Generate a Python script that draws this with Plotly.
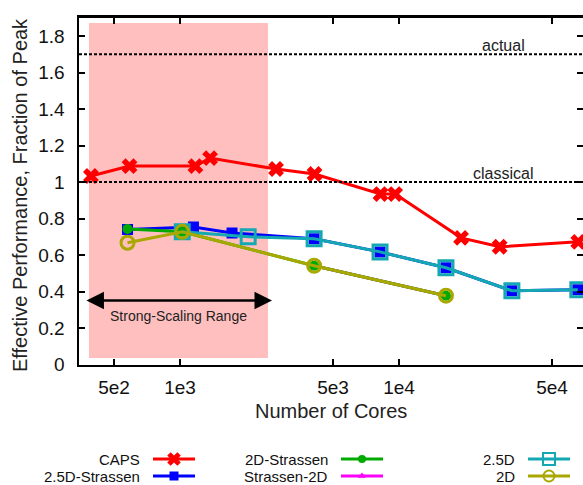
import math
import plotly.graph_objects as go

# ---------------- data ----------------
caps_cores = [392, 588, 1176, 1372, 2744, 4116, 8232, 9604, 19208, 28812, 65856]
caps_perf = [1.033, 1.087, 1.087, 1.131, 1.071, 1.044, 0.934, 0.934, 0.694, 0.645, 0.672]

s25d_cores = [576, 1152, 1728, 4096, 8192, 16384, 32768, 65536]
s25d_perf = [0.740, 0.754, 0.721, 0.689, 0.617, 0.530, 0.404, 0.410]

s2d_cores = [576, 1024, 4096, 16384]
s2d_perf = [0.743, 0.727, 0.541, 0.377]

strassen2d_cores = [4096, 16384]
strassen2d_perf = [0.541, 0.377]

d25_cores = [1024, 2048, 4096, 8192, 16384, 32768, 65536]
d25_perf = [0.727, 0.700, 0.689, 0.617, 0.530, 0.404, 0.410]

d2_cores = [576, 1024, 4096, 16384]
d2_perf = [0.667, 0.727, 0.541, 0.377]

x_tickvals = [500, 1000, 5000, 10000, 50000]
x_ticktext = ["5e2", "1e3", "5e3", "1e4", "5e4"]
y_tickvals = [0, 0.2, 0.4, 0.6, 0.8, 1.0, 1.2, 1.4, 1.6, 1.8]
y_ticktext = ["0", "0.2", "0.4", "0.6", "0.8", "1", "1.2", "1.4", "1.6", "1.8"]

peak_levels = [1.7, 1.0]
peak_labels = ["actual", "classical"]

strong_range = [384, 2523]
strong_y = [0.036, 1.871]
arrow_range = [368, 2631]
arrow_y = 0.351

FONT = "Liberation Sans, Arial, Helvetica, sans-serif"
W, H = 583, 485

# layout geometry (pixels)
PL, PR, PT, PB = 79, 583, 17.75, 364.5
x_range = [3 - (180 - PL) / 219.0, 3 + (PR - 180) / 219.0]
y_range = [0, 1.9]

series = [
    # name, x, y, color, symbol, size, marker line width
    ("Strassen-2D", strassen2d_cores, strassen2d_perf, "#ff00ff", "triangle-up", 9, 0),
    ("CAPS", caps_cores, caps_perf, "#ff0000", "x", 14, 0),
    ("2.5D-Strassen", s25d_cores, s25d_perf, "#0000ff", "square", 11, 0),
    ("2D-Strassen", s2d_cores, s2d_perf, "#00aa00", "circle", 10, 0),
    ("2.5D", d25_cores, d25_perf, "#14a9b2", "square-open", 14, 3),
    ("2D", d2_cores, d2_perf, "#a8a800", "circle-open", 13, 3),
]
style = {s[0]: s for s in series}

fig = go.Figure()

# strong scaling range (pink box)
fig.add_trace(go.Scatter(
    x=[strong_range[0], strong_range[1], strong_range[1], strong_range[0], strong_range[0]],
    y=[strong_y[0], strong_y[0], strong_y[1], strong_y[1], strong_y[0]],
    fill="toself", fillcolor="#ffbfbf", mode="none", hoverinfo="skip",
    showlegend=False, xaxis="x", yaxis="y"))

for name, xs, ys, color, sym, size, mlw in series:
    fig.add_trace(go.Scatter(
        x=xs, y=ys, mode="lines+markers", name=name, showlegend=False,
        line=dict(color=color, width=3),
        marker=dict(symbol=sym, size=size, color=color,
                    line=dict(color=color, width=mlw)),
        xaxis="x", yaxis="y"))

shapes = []
annotations = []
for lvl, lab in zip(peak_levels, peak_labels):
    shapes.append(dict(type="line", xref="x domain", yref="y", x0=0, x1=1,
                       y0=lvl, y1=lvl, line=dict(color="black", width=2, dash="3px,2px")))
    annotations.append(dict(xref="x3", yref="y", x=503, y=lvl,
                            text=lab, showarrow=False, xanchor="center", yanchor="bottom",
                            yshift=-2, font=dict(family=FONT, size=16, color="#222")))

# strong-scaling arrow
annotations.append(dict(xref="x", yref="y", axref="x", ayref="y",
                        x=math.log10(arrow_range[1]), y=arrow_y,
                        ax=math.log10(arrow_range[0]), ay=arrow_y,
                        text="", showarrow=True, arrowside="end+start",
                        arrowhead=2, arrowsize=1.4, arrowwidth=2.5, arrowcolor="black",
                        standoff=0, startstandoff=0))
annotations.append(dict(xref="x", yref="y", x=math.log10(985), y=0.266,
                        text="Strong-Scaling Range", showarrow=False,
                        font=dict(family=FONT, size=14, color="#222")))

# axis titles (pixel coordinate axes x3/y3)
annotations.append(dict(xref="x3", yref="y3", x=20, y=195,
                        text="Effective Performance, Fraction of Peak", textangle=-90,
                        showarrow=False, xanchor="center", yanchor="middle",
                        font=dict(family=FONT, size=20, color="#222")))
annotations.append(dict(xref="x3", yref="y3", x=331, y=411,
                        text="Number of Cores", showarrow=False,
                        xanchor="center", yanchor="middle",
                        font=dict(family=FONT, size=20, color="#222")))

# custom legend (pixel coordinate axes x3/y3)
legend_layout = [
    ("CAPS", 142, 459), ("2.5D-Strassen", 142, 476),
    ("2D-Strassen", 330, 459), ("Strassen-2D", 330, 476),
    ("2.5D", 517, 459), ("2D", 517, 476),
]
for name, tx, ty in legend_layout:
    _, _, _, color, sym, size, mlw = style[name]
    x1, x2 = tx + 11, tx + 53
    fig.add_trace(go.Scatter(
        x=[x1, x2], y=[ty, ty], mode="lines", showlegend=False,
        line=dict(color=color, width=3), hoverinfo="skip", xaxis="x3", yaxis="y3"))
    fig.add_trace(go.Scatter(
        x=[(x1 + x2) / 2], y=[ty], mode="markers", showlegend=False,
        marker=dict(symbol=sym, size=size - 2, color=color,
                    line=dict(color=color, width=min(mlw, 2))),
        hoverinfo="skip", xaxis="x3", yaxis="y3"))
    annotations.append(dict(xref="x3", yref="y3", x=tx, y=ty, text=name, showarrow=False,
                            xanchor="right", yanchor="middle",
                            font=dict(family=FONT, size=15, color="#111")))

axis_common = dict(showgrid=False, zeroline=False, ticks="inside", ticklen=6, tickwidth=2,
                   tickcolor="black", showline=True, linecolor="black", linewidth=2.5,
                   automargin=False,
                   tickfont=dict(family=FONT, size=19, color="#111"))

fig.update_layout(
    width=W, height=H, autosize=False,
    margin=dict(l=0, r=0, t=0, b=0, pad=0, autoexpand=False),
    paper_bgcolor="white", plot_bgcolor="rgba(0,0,0,0)",
    showlegend=False,
    xaxis=dict(type="log", domain=[PL / W, PR / W], range=x_range, anchor="y",
               tickvals=x_tickvals, ticktext=x_ticktext, mirror="ticks",
               ticklabelstandoff=4, **axis_common),
    yaxis=dict(domain=[1 - PB / H, 1 - PT / H], range=y_range, anchor="x",
               tickvals=y_tickvals, ticktext=y_ticktext, mirror=False,
               ticklabelstandoff=8, **axis_common),
    yaxis2=dict(overlaying="y", side="right", anchor="x", range=y_range,
                tickvals=y_tickvals, showticklabels=False, ticks="inside", ticklen=6,
                tickwidth=2, tickcolor="black", showline=False, showgrid=False,
                zeroline=False, automargin=False),
    xaxis3=dict(domain=[0, 1], range=[0, W], visible=False, anchor="y3",
                fixedrange=True, automargin=False),
    yaxis3=dict(domain=[0, 1], range=[H, 0], visible=False, anchor="x3",
                fixedrange=True, automargin=False),
    shapes=shapes,
    annotations=annotations,
)

# dummy trace so yaxis2 is rendered
fig.add_trace(go.Scatter(x=[x_tickvals[0]], y=[None], xaxis="x", yaxis="y2",
                         showlegend=False, hoverinfo="skip"))

fig.write_html("out.html",
               config={"displayModeBar": False, "staticPlot": True},
               post_script="document.body.style.margin='0';document.body.style.overflow='hidden';")
